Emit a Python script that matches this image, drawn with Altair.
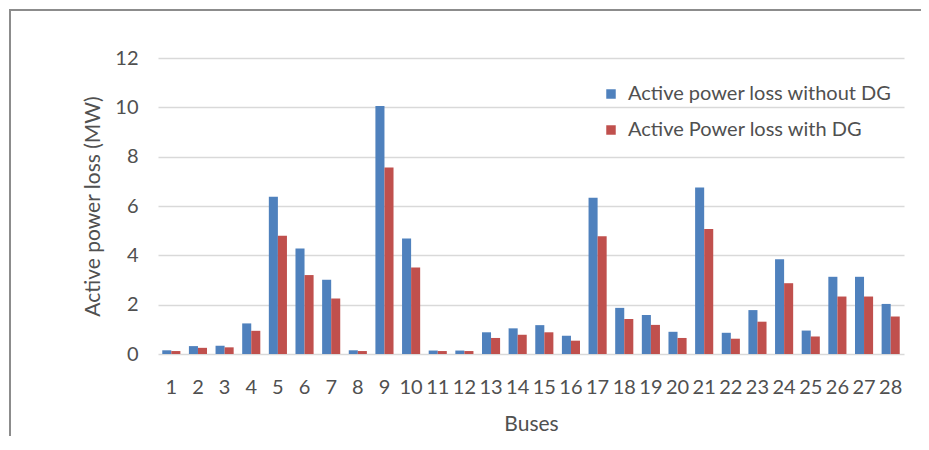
import altair as alt
import pandas as pd

buses = [str(i) for i in range(1, 29)]
loss_without_dg = [0.15, 0.32, 0.33, 1.24, 6.38, 4.28, 3.01, 0.15, 10.05, 4.68,
                   0.14, 0.14, 0.88, 1.04, 1.17, 0.74, 6.33, 1.87, 1.58, 0.9,
                   6.75, 0.86, 1.78, 3.84, 0.95, 3.13, 3.13, 2.03]
loss_with_dg = [0.12, 0.25, 0.27, 0.94, 4.79, 3.2, 2.25, 0.12, 7.56, 3.51,
                0.12, 0.12, 0.65, 0.78, 0.88, 0.54, 4.77, 1.42, 1.18, 0.65,
                5.07, 0.62, 1.31, 2.87, 0.71, 2.33, 2.33, 1.52]
series_names = ["Active power loss without DG", "Active Power loss with DG"]
series_colors = ["#4F81BD", "#C0504D"]

rows = []
for b, v1, v2 in zip(buses, loss_without_dg, loss_with_dg):
    rows.append({"Bus": b, "Series": series_names[0], "Loss": v1})
    rows.append({"Bus": b, "Series": series_names[1], "Loss": v2})
df = pd.DataFrame(rows)

FONT = "Lato"
TXT = "#505050"

bars = alt.Chart(df).mark_bar().encode(
    x=alt.X("Bus:N", sort=buses, title="Buses",
            scale=alt.Scale(paddingInner=0.32, paddingOuter=0.16),
            axis=alt.Axis(labelAngle=0, ticks=False, domain=False, labelPadding=23,
                          titlePadding=16, labelFontSize=20, titleFontSize=21,
                          labelColor=TXT, titleColor=TXT,
                          labelFont=FONT, titleFont=FONT, titleFontWeight="normal")),
    xOffset=alt.XOffset("Series:N", sort=series_names,
                        scale=alt.Scale(paddingInner=0, paddingOuter=0)),
    y=alt.Y("Loss:Q", title="Active power loss (MW)",
            scale=alt.Scale(domain=[0, 12]),
            axis=alt.Axis(values=[0, 2, 4, 6, 8, 10, 12], ticks=False, domain=False,
                          labelPadding=20, titlePadding=11, labelFontSize=20,
                          titleFontSize=21, labelColor=TXT, titleColor=TXT,
                          gridColor="#d9d9d9", gridWidth=1.5,
                          labelFont=FONT, titleFont=FONT, titleFontWeight="normal")),
    color=alt.Color("Series:N", sort=series_names,
                    scale=alt.Scale(domain=series_names, range=series_colors),
                    legend=alt.Legend(title=None, orient="none", legendX=443, legendY=26,
                                      symbolType="square", symbolSize=90,
                                      labelFontSize=20, labelFont=FONT,
                                      labelColor=TXT, rowPadding=16, labelLimit=0,
                                      symbolStrokeWidth=0, labelOffset=7)),
)

border = alt.Chart(pd.DataFrame({"a": [0]})).mark_rect(
    fill=None, stroke="#8c8c8c", strokeWidth=2
).encode(x=alt.value(-148), x2=alt.value(1000), y=alt.value(-48), y2=alt.value(600))

chart = alt.layer(border, bars).properties(
    width=746, height=296,
    autosize=alt.AutoSizeParams(type="none"),
    padding={"left": 150, "top": 50, "right": 17, "bottom": 82},
    background="white",
).configure_view(stroke=None)

chart.save("out.html", embed_options={"renderer": "svg", "actions": False})
